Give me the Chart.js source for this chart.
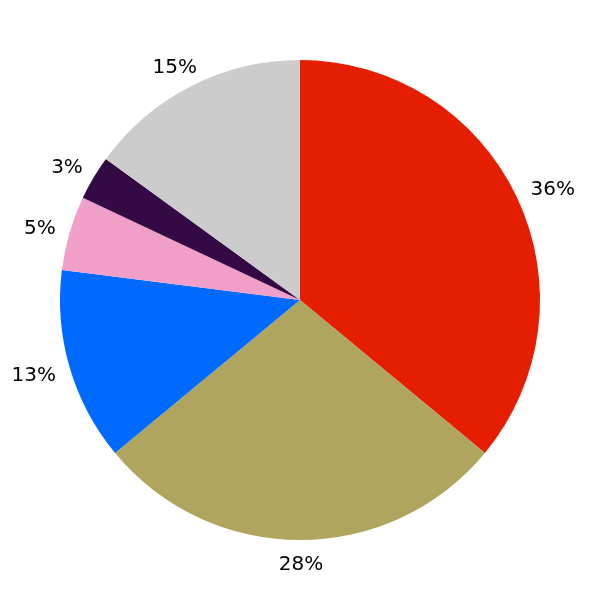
<!DOCTYPE html>
<html>
<head>
<meta charset="utf-8">
<script src="https://cdn.jsdelivr.net/npm/chart.js@4"></script>
<style>
  html, body { margin: 0; padding: 0; background: #ffffff; }
  #chart { display: block; }
</style>
</head>
<body>
<canvas id="chart" width="600" height="600"></canvas>
<script>
// Slice data (clockwise from 12 o'clock)
const values = [36, 28, 13, 5, 3, 15];
const labels = ['36%', '28%', '13%', '5%', '3%', '15%'];
const colors = ['#e61e00', '#b0a55e', '#006aff', '#f0a0c8', '#340a44', '#cccccc'];

// Draw the percentage labels just outside each slice
const outsideLabels = {
  id: 'outsideLabels',
  afterDatasetsDraw(chart) {
    const ctx = chart.ctx;
    const meta = chart.getDatasetMeta(0);
    ctx.save();
    ctx.font = '20px "DejaVu Sans"';
    ctx.fillStyle = '#000000';
    ctx.textAlign = 'center';
    ctx.textBaseline = 'middle';
    meta.data.forEach((arc, i) => {
      const mid = (arc.startAngle + arc.endAngle) / 2;
      const dx = Math.cos(mid);
      const dy = Math.sin(mid);
      const w = ctx.measureText(labels[i]).width;
      const h = 14;
      const dist = arc.outerRadius + 16;
      const x = arc.x + dx * dist + dx * w / 2;
      const y = arc.y + dy * dist + dy * h / 2;
      ctx.fillText(labels[i], x + 1, y + 2);
    });
    ctx.restore();
  }
};

new Chart(document.getElementById('chart').getContext('2d'), {
  type: 'pie',
  data: {
    labels: labels,
    datasets: [{
      data: values,
      backgroundColor: colors,
      borderWidth: 0,
      hoverOffset: 0
    }]
  },
  options: {
    responsive: false,
    animation: false,
    layout: { padding: 60 },
    plugins: {
      legend: { display: false },
      tooltip: { enabled: false }
    }
  },
  plugins: [outsideLabels]
});
</script>
</body>
</html>
